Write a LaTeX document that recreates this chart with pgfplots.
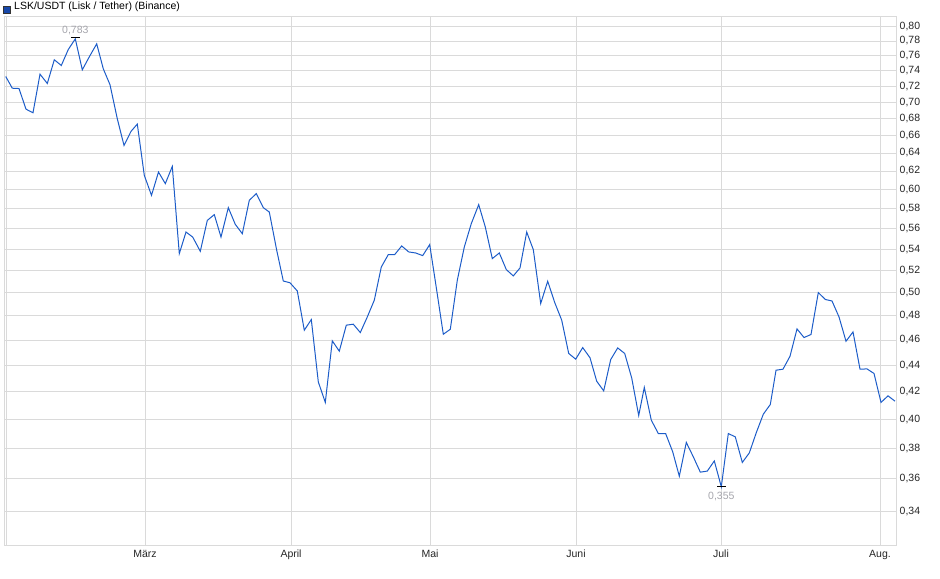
\documentclass[border=0pt]{standalone}
\usepackage{pgfplots}
\pgfplotsset{compat=1.18}
\usepackage{fontspec}
\setmainfont{Liberation Sans}

\definecolor{lineblue}{RGB}{28,92,200}
\definecolor{sqblue}{RGB}{24,72,170}
\definecolor{gridgray}{RGB}{218,218,218}
\definecolor{labelgray}{RGB}{165,165,172}

\begin{document}
\begin{tikzpicture}
\useasboundingbox (0,0) rectangle (940bp,579bp);

\node[anchor=west, inner sep=0pt, font=\fontsize{10.5bp}{12bp}\selectfont] at (3bp,571bp)
  {{\fboxsep=3.2bp\fboxrule=0.8bp\fcolorbox{black!80}{sqblue}{\rule{0pt}{0pt}}}\hspace{3bp}LSK/USDT (Lisk / Tether) (Binance)};

\begin{axis}[
    at={(4bp,34bp)}, anchor=south west,
    scale only axis,
    width=892bp, height=529bp,
    ymode=log,
    xmin=4, xmax=896,
    ymin=0.3203, ymax=0.8151,
    axis line style={gridgray},
    grid=major,
    major grid style={gridgray, line width=0.8bp},
    major tick length=0pt,
    xtick={6,145,291,430,576,721,880},
    xticklabels={,März,April,Mai,Juni,Juli,Aug.},
    ytick={0.34,0.36,0.38,0.40,0.42,0.44,0.46,0.48,0.50,0.52,0.54,0.56,0.58,0.60,0.62,0.64,0.66,0.68,0.70,0.72,0.74,0.76,0.78,0.80},
    yticklabels={{0,34},{0,36},{0,38},{0,40},{0,42},{0,44},{0,46},{0,48},{0,50},{0,52},{0,54},{0,56},{0,58},{0,60},{0,62},{0,64},{0,66},{0,68},{0,70},{0,72},{0,74},{0,76},{0,78},{0,80}},
    yticklabel pos=right,
    every tick label/.append style={font=\fontsize{10.5bp}{12bp}\selectfont, text=black!85},
    yticklabel style={anchor=west, xshift=2.5bp, inner sep=1bp},
    xticklabel style={anchor=north, inner sep=1bp, yshift=-4bp},
    clip=false,
]
\addplot[lineblue, line width=1bp] coordinates {
(5.7,0.7326) (12.3,0.7176) (19,0.7172) (26,0.6915) (33,0.6871) (40,0.7356)
(47.3,0.7236) (54.3,0.7545) (61.3,0.7470) (68.3,0.7684) (75.3,0.7830) (82.3,0.7413)
(89.3,0.7585) (96.7,0.7761) (103.3,0.7426) (110,0.7220) (117.3,0.6799) (124,0.6486)
(131,0.6649) (137.3,0.6735) (144.3,0.6152) (151.5,0.5939) (158.5,0.6188) (165.3,0.6063)
(172.3,0.6250) (179.3,0.5358) (186,0.5566) (192.7,0.5517) (200.3,0.5380) (207.3,0.5682)
(214.3,0.5740) (221,0.5517) (228.3,0.5811) (235.3,0.5642) (242.3,0.5550) (249.3,0.5887)
(256.3,0.5957) (263.3,0.5811) (269.3,0.5766) (276.7,0.5390) (283.3,0.5105) (290,0.5089)
(297.3,0.5016) (304.3,0.4680) (311.3,0.4769) (318.3,0.4272) (325.3,0.4120) (332.3,0.4593)
(339.3,0.4510) (346.3,0.4722) (353.3,0.4730) (360.3,0.4661) (367.3,0.4791) (374.3,0.4935)
(381.3,0.5233) (388.3,0.5349) (394.7,0.5349) (401.7,0.5431) (408.7,0.5374) (415.7,0.5364)
(422.7,0.5339) (429.7,0.5444) (436.7,0.5022) (443.3,0.4647) (450.3,0.4688) (457.3,0.5112)
(464.3,0.5421) (471.3,0.5650) (478.7,0.5842) (485.3,0.5616) (492.3,0.5311) (499.3,0.5364)
(506.3,0.5209) (513.3,0.5151) (520,0.5224) (526.7,0.5566) (533.3,0.5396) (540.7,0.4906)
(547.7,0.5103) (554.7,0.4915) (561.7,0.4764) (568.7,0.4492) (575.7,0.4447) (582.7,0.4539)
(590,0.4458) (596.7,0.4277) (603.7,0.4205) (610.7,0.4444) (617.7,0.4536) (624.7,0.4492)
(631.7,0.4302) (638.7,0.4026) (644.3,0.4230) (651.3,0.3993) (658.3,0.3900) (665.7,0.3899)
(672.7,0.3776) (679.3,0.3617) (686.3,0.3839) (693.3,0.3743) (700.3,0.3643) (707.3,0.3650)
(714.3,0.3716) (721.3,0.3550) (728.3,0.3900) (735.3,0.3877) (742.3,0.3706) (749.3,0.3769)
(756.3,0.3907) (763.3,0.4035) (770.3,0.4105) (776,0.4361) (783,0.4369) (790,0.4470)
(797,0.4691) (804,0.4620) (811,0.4645) (818.3,0.5002) (825.3,0.4941) (832,0.4928)
(839,0.4791) (846,0.4590) (853,0.4666) (860,0.4369) (867,0.4371) (874,0.4336)
(881,0.4120) (888,0.4168) (895,0.4129)
};
% high / low markers
\addplot[only marks, mark=-, mark size=4.5bp, black, line width=0.9bp] coordinates {(75.3,0.7845) (721.3,0.3550)};
\node[anchor=south, text=labelgray, inner sep=1bp, yshift=2bp, font=\fontsize{10.5bp}{12bp}\selectfont] at (axis cs:75.3,0.7845) {0,783};
\node[anchor=north, text=labelgray, inner sep=1bp, yshift=-4.5bp, font=\fontsize{10.5bp}{12bp}\selectfont] at (axis cs:721.3,0.3550) {0,355};
\end{axis}
\end{tikzpicture}
\end{document}
